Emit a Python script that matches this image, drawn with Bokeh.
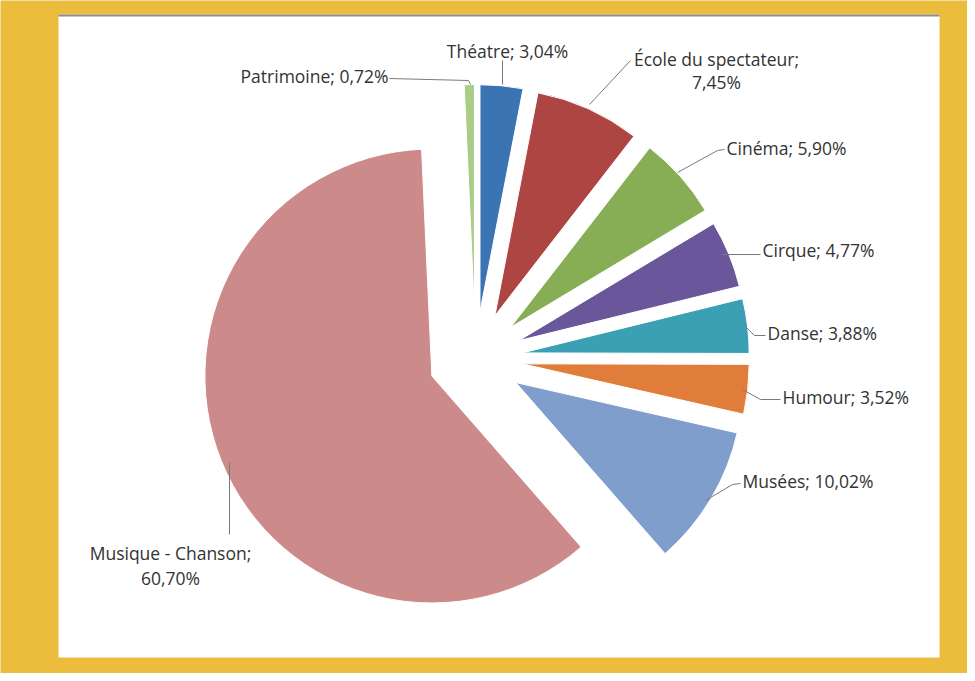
import numpy as np
from bokeh.plotting import figure
from bokeh.models import Range1d, ColumnDataSource
from bokeh.core.properties import value
from bokeh.embed import file_html
from bokeh.resources import INLINE

# ---- data ----
categories = ["Théatre", "École du spectateur", "Cinéma", "Cirque", "Danse",
              "Humour", "Musées", "Musique - Chanson", "Patrimoine"]
shares = [3.04, 7.45, 5.90, 4.77, 3.88, 3.52, 10.02, 60.70, 0.72]
pct_labels = ["3,04%", "7,45%", "5,90%", "4,77%", "3,88%", "3,52%",
              "10,02%", "60,70%", "0,72%"]
colors = ["#3B74B3", "#AD4543", "#87AE55", "#6A569B", "#3BA0B4",
          "#E07D3A", "#809ECC", "#CC8A8A", "#A9CD86"]

# ---- layout (page pixel coordinates) ----
W, H = 967, 673
def X(px): return px - 8
def Y(py): return 681 - py

YELLOW = "#ECBC3C"
p = figure(width=W, height=H, x_range=Range1d(0, W), y_range=Range1d(0, H),
           output_backend="svg", toolbar_location=None, min_border=0)
p.axis.visible = False
p.grid.visible = False
p.outline_line_color = None
p.background_fill_color = YELLOW
p.border_fill_color = YELLOW

# white panel
p.quad(left=X(66), right=X(947), top=Y(22), bottom=Y(665),
       fill_color="white", line_color=None)
p.segment(x0=X(66), y0=Y(23), x1=X(947), y1=Y(23), line_color="#8C8C8C", line_width=2)

# pie geometry
cx, cy = X(483), Y(366)
R = 227
explode = 47

vals = np.array(shares, dtype=float)
frac = vals / vals.sum() * 360.0
theta_end = np.cumsum(frac)          # clockwise from 12 o'clock
theta_start = theta_end - frac
mid = (theta_start + theta_end) / 2
rad = np.deg2rad(mid)
xs = cx + explode * np.sin(rad)
ys = cy + explode * np.cos(rad)

src = ColumnDataSource(dict(
    x=xs, y=ys,
    start=np.deg2rad(90 - theta_end), end=np.deg2rad(90 - theta_start),
    color=colors, cat=categories))
p.wedge(x="x", y="y", radius=R, start_angle="start", end_angle="end",
        direction="anticlock", fill_color="color",
        line_color="white", line_width=1, source=src)

# leader lines (page pixel coords)
leaders = [
    [(510, 68), (510, 92)],                          # Théatre
    [(638, 68), (597, 112)],                         # École
    [(732, 157), (725, 158), (685, 180)],            # Cinéma
    [(768, 262), (730, 262)],                        # Cirque
    [(773, 343), (762, 343), (751, 332)],            # Danse
    [(788, 407), (768, 407), (750, 397)],            # Humour
    [(748, 491), (740, 492), (713, 508)],            # Musées
    [(237, 542), (237, 470)],                        # Musique
    [(397, 86), (476, 88), (478, 92)],               # Patrimoine
]
p.multi_line(xs=[[X(a) for a, b in L] for L in leaders],
             ys=[[Y(b) for a, b in L] for L in leaders],
             line_color="#7A7A7A", line_width=1)

# labels
FONT = value("Open Sans")
TC = "#333333"
FS = "17.5px"
def lab(txt, px, py, align):
    p.text(x=[X(px)], y=[Y(py)], text=[txt], text_font=FONT, text_font_size=FS,
           text_color=TC, text_align=align, text_baseline="middle")

lab(f"{categories[0]}; {pct_labels[0]}", 515, 58, "center")
lab(f"{categories[1]};", 724, 66, "center")
lab(pct_labels[1], 724, 89, "center")
lab(f"{categories[2]}; {pct_labels[2]}", 734, 155, "left")
lab(f"{categories[3]}; {pct_labels[3]}", 770, 257, "left")
lab(f"{categories[4]}; {pct_labels[4]}", 775, 340, "left")
lab(f"{categories[5]}; {pct_labels[5]}", 790, 404, "left")
lab(f"{categories[6]}; {pct_labels[6]}", 750, 488, "left")
lab(f"{categories[7]};", 178, 560, "center")
lab(pct_labels[7], 178, 585, "center")
lab(f"{categories[8]}; {pct_labels[8]}", 396, 83, "right")

open("out.html", "w").write(file_html(p, INLINE))
